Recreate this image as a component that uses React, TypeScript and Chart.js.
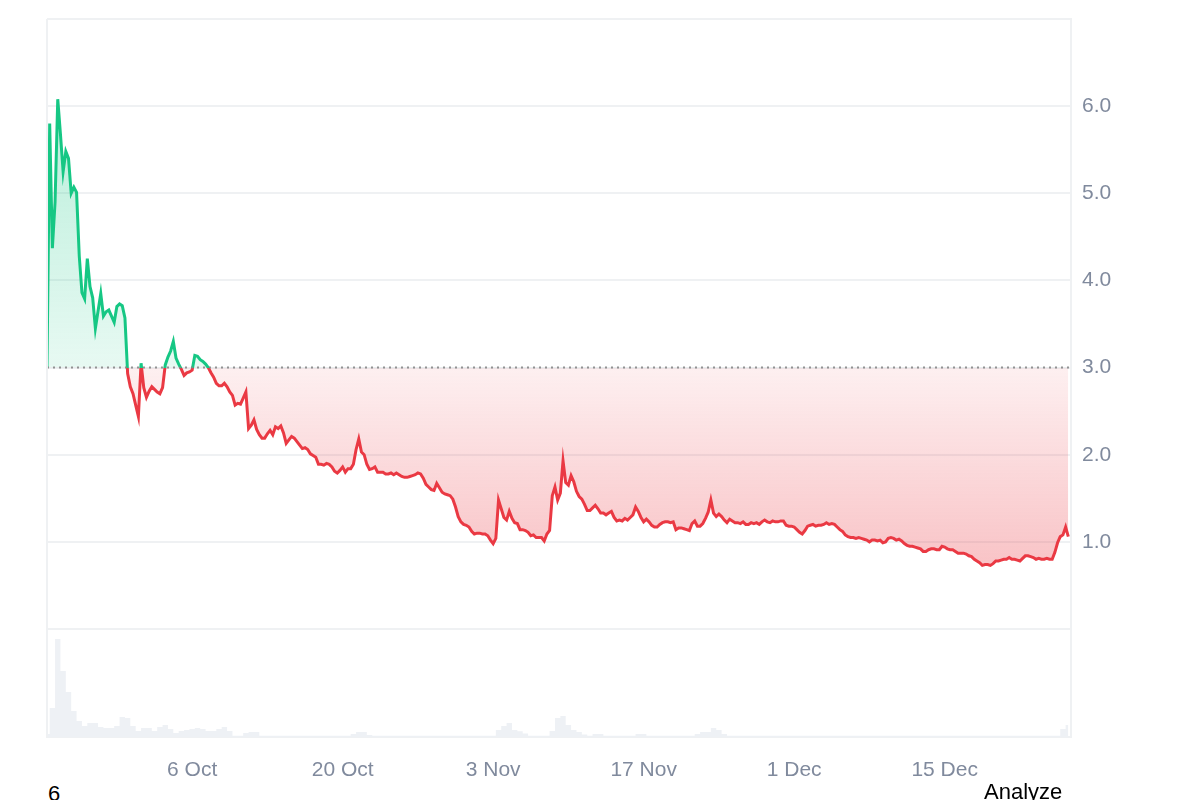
import React, { useEffect, useRef } from "react";
import { Chart, registerables } from "chart.js";

Chart.register(...registerables);

// Day 0 = 22 Sep. Prices sampled every 6 hours, volume every 12 hours.
const START_DAY = 0.5;
const PRICE_STEP = 0.25;
const VOLUME_STEP = 0.5;
const X_MIN = 0.5;
const X_MAX = 95.75;
const BASELINE = 3.0;

const TICK_DAYS = [14, 28, 42, 56, 70, 84];
const TICK_LABELS = ["6 Oct", "20 Oct", "3 Nov", "17 Nov", "1 Dec", "15 Dec"];
const PRICE_MIN = 0;
const PRICE_MAX = 7;
const PRICE_LABELED = [1, 2, 3, 4, 5, 6];
const VOLUME_MAX = 108;

const PRICES = [
  3.0, 5.8, 4.37, 4.9, 6.08, 5.68, 5.25, 5.48, 5.4, 5.0,
  5.07, 5.01, 4.28, 3.86, 3.79, 4.25, 3.93, 3.8, 3.45, 3.65,
  3.85, 3.59, 3.64, 3.66, 3.59, 3.52, 3.7, 3.73, 3.71, 3.57,
  2.93, 2.78, 2.7, 2.57, 2.44, 3.05, 2.77, 2.66, 2.73, 2.78,
  2.75, 2.72, 2.7, 2.77, 3.03, 3.12, 3.19, 3.3, 3.11, 3.04,
  2.98, 2.91, 2.94, 2.95, 2.97, 3.14, 3.13, 3.09, 3.07, 3.04,
  3.0, 2.94, 2.89, 2.82, 2.79, 2.79, 2.82, 2.78, 2.72, 2.68,
  2.57, 2.59, 2.58, 2.65, 2.72, 2.3, 2.34, 2.4, 2.29, 2.23,
  2.19, 2.19, 2.24, 2.28, 2.23, 2.32, 2.3, 2.33, 2.25, 2.13,
  2.17, 2.21, 2.19, 2.15, 2.11, 2.07, 2.08, 2.06, 2.01, 1.99,
  1.97, 1.89, 1.89, 1.88, 1.9, 1.89, 1.86, 1.81, 1.79, 1.82,
  1.86, 1.8, 1.84, 1.84, 1.89, 2.06, 2.18, 2.03, 2.0, 1.89,
  1.83, 1.84, 1.86, 1.8, 1.8, 1.8, 1.78, 1.78, 1.79, 1.77,
  1.79, 1.77, 1.75, 1.74, 1.74, 1.75, 1.76, 1.77, 1.79, 1.78,
  1.73, 1.66, 1.63, 1.6, 1.59, 1.67, 1.62, 1.57, 1.55, 1.54,
  1.53, 1.49, 1.4, 1.29, 1.23, 1.2, 1.19, 1.17, 1.12, 1.09,
  1.1, 1.1, 1.09, 1.09, 1.07, 1.02, 0.98, 1.04, 1.48, 1.38,
  1.28, 1.25, 1.35, 1.27, 1.22, 1.21, 1.14, 1.14, 1.13, 1.11,
  1.07, 1.08, 1.05, 1.05, 1.05, 1.01, 1.09, 1.13, 1.53, 1.63,
  1.48, 1.56, 1.93, 1.68, 1.65, 1.76, 1.69, 1.58, 1.52, 1.49,
  1.43, 1.36, 1.36, 1.39, 1.42, 1.38, 1.33, 1.33, 1.31, 1.33,
  1.35, 1.28, 1.24, 1.25, 1.24, 1.27, 1.25, 1.28, 1.31, 1.4,
  1.35, 1.28, 1.23, 1.26, 1.23, 1.19, 1.17, 1.17, 1.2, 1.22,
  1.23, 1.23, 1.22, 1.23, 1.14, 1.16, 1.16, 1.15, 1.14, 1.13,
  1.21, 1.24, 1.18, 1.18, 1.21, 1.27, 1.34, 1.48, 1.33, 1.29,
  1.32, 1.29, 1.25, 1.22, 1.26, 1.24, 1.22, 1.22, 1.21, 1.23,
  1.2, 1.2, 1.22, 1.21, 1.22, 1.2, 1.23, 1.25, 1.23, 1.22,
  1.24, 1.23, 1.23, 1.24, 1.24, 1.19, 1.18, 1.18, 1.17, 1.14,
  1.11, 1.09, 1.13, 1.18, 1.19, 1.2, 1.18, 1.19, 1.19, 1.2,
  1.22, 1.2, 1.21, 1.2, 1.17, 1.14, 1.12, 1.08, 1.06, 1.05,
  1.05, 1.04, 1.05, 1.04, 1.03, 1.02, 1.0, 1.02, 1.02, 1.01,
  1.02, 0.99, 1.0, 1.04, 1.05, 1.04, 1.02, 1.03, 1.01, 0.98,
  0.96, 0.95, 0.95, 0.94, 0.93, 0.92, 0.89, 0.89, 0.91, 0.92,
  0.92, 0.91, 0.91, 0.95, 0.94, 0.92, 0.91, 0.91, 0.89, 0.87,
  0.87, 0.87, 0.86, 0.84, 0.83, 0.8, 0.78, 0.76, 0.73, 0.74,
  0.74, 0.73, 0.75, 0.78, 0.78, 0.79, 0.8, 0.8, 0.82, 0.8,
  0.8, 0.79, 0.78, 0.81, 0.84, 0.84, 0.83, 0.82, 0.8, 0.81,
  0.8, 0.8, 0.81, 0.8, 0.8, 0.88, 0.99, 1.06, 1.08, 1.17,
  1.06,
];

const VOLUMES = [
  3, 29, 98, 66, 45, 26, 16, 11, 14, 14,
  10, 9, 9, 11, 20, 19, 11, 6, 9, 9,
  6, 10, 12, 8, 4, 6, 7, 8, 9, 8,
  6, 6, 8, 10, 6, 1.3, 1.3, 4, 5, 5,
  1.3, 1.3, 1.3, 1.3, 1.3, 1.3, 1.3, 1.3, 1.3, 1.3,
  1.3, 1.3, 1.3, 1.3, 1.3, 1.3, 1.3, 3, 5, 5,
  2, 1.3, 1.3, 1.3, 1.3, 1.3, 1.3, 1.3, 1.3, 1.3,
  1.3, 1.3, 1.3, 1.3, 1.3, 1.3, 1.3, 1.3, 1.3, 1.3,
  1.3, 1.3, 1.3, 1.3, 7, 11, 14, 7, 5.7, 3.5,
  1.3, 1.3, 1.3, 1.3, 6, 19, 21, 12, 7, 5,
  2.5, 1.3, 3, 3, 1.3, 1.3, 1.3, 1.3, 1.3, 1.3,
  3, 3, 1.3, 1.3, 1.3, 1.3, 1.3, 1.3, 1.3, 1.3,
  1.3, 3, 5, 5, 9, 7, 3, 1.3, 1.3, 1.3,
  1.3, 1.3, 1.3, 1.3, 1.3, 1.3, 1.3, 1.3, 1.3, 1.3,
  1.3, 1.3, 1.3, 1.3, 1.3, 1.3, 1.3, 1.3, 1.3, 1.3,
  1.3, 1.3, 1.3, 1.3, 1.3, 1.3, 1.3, 1.3, 1.3, 1.3,
  1.3, 1.3, 1.3, 1.3, 1.3, 1.3, 1.3, 1.3, 1.3, 1.3,
  1.3, 1.3, 1.3, 1.3, 1.3, 1.3, 1.3, 1.3, 1.3, 1.3,
  1.3, 1.3, 1.3, 1.3, 1.3, 1.3, 1.3, 1.3, 1.3, 8,
  12,
];

const GREEN = "#16c784";
const RED = "#ea3943";
const GRID = "#eff1f3";
const TICK_COLOR = "#808a9d";
const FONT_FAMILY = "'Liberation Sans', Arial, Helvetica, sans-serif";

const leftBorderPlugin = {
  id: "leftBorder",
  afterDraw(chart: any) {
    const { ctx, chartArea } = chart;
    ctx.save();
    ctx.strokeStyle = GRID;
    ctx.lineWidth = 2;
    ctx.beginPath();
    ctx.moveTo(chartArea.left, chartArea.top);
    ctx.lineTo(chartArea.left, chartArea.bottom);
    ctx.stroke();
    ctx.restore();
  },
};

export default function App() {
  const canvasRef = useRef<HTMLCanvasElement | null>(null);

  useEffect(() => {
    const canvas = canvasRef.current;
    if (!canvas) return;

    const priceData = PRICES.map((p, i) => ({ x: START_DAY + i * PRICE_STEP, y: p }));
    const volumeData = VOLUMES.map((v, i) => ({ x: START_DAY + i * VOLUME_STEP, y: v }));

    const chart = new Chart(canvas, {
      type: "line",
      data: {
        datasets: [
          {
            label: "baseline",
            data: [
              { x: X_MIN, y: BASELINE },
              { x: X_MAX, y: BASELINE },
            ],
            yAxisID: "y",
            borderColor: "rgba(130,130,130,0.85)",
            borderWidth: 2,
            borderDash: [2, 4],
            pointRadius: 0,
            fill: false,
            order: 0,
          },
          {
            label: "price",
            data: priceData,
            yAxisID: "y",
            borderColor: RED,
            borderWidth: 3,
            pointRadius: 0,
            tension: 0,
            fill: { target: { value: BASELINE }, above: "rgba(22,199,132,0.18)", below: "rgba(234,57,67,0.15)" },
            order: 1,
          },
          {
            label: "volume",
            data: volumeData,
            yAxisID: "yv",
            borderWidth: 0,
            borderColor: "rgba(0,0,0,0)",
            backgroundColor: "#eef1f5",
            pointRadius: 0,
            stepped: "middle",
            fill: "origin",
            order: 2,
          },
        ] as any,
      },
      options: {
        animation: false,
        responsive: true,
        maintainAspectRatio: false,
        layout: { padding: { left: 39, top: 11, right: 0, bottom: 0 } },
        plugins: {
          legend: { display: false },
          tooltip: { enabled: false },
        },
        scales: {
          x: {
            type: "linear",
            min: X_MIN,
            max: X_MAX,
            grid: { display: false },
            border: { display: true, color: GRID, width: 2 },
            afterBuildTicks: (axis: any) => {
              axis.ticks = TICK_DAYS.map((v) => ({ value: v }));
            },
            afterFit: (scale: any) => {
              scale.height = 43;
              scale.paddingLeft = 0;
              scale.paddingRight = 0;
            },
            ticks: {
              autoSkip: false,
              maxRotation: 0,
              padding: 13,
              color: TICK_COLOR,
              font: { family: FONT_FAMILY, size: 21 },
              callback: (value: any) => {
                const idx = TICK_DAYS.indexOf(Number(value));
                return idx >= 0 ? TICK_LABELS[idx] : "";
              },
            },
          },
          y: {
            type: "linear",
            position: "right",
            stack: "main",
            stackWeight: 610,
            min: PRICE_MIN,
            max: PRICE_MAX,
            grid: { color: GRID, lineWidth: 2, drawTicks: false },
            border: { display: true, color: GRID, width: 2 },
            afterFit: (scale: any) => {
              scale.width = 121;
              scale.paddingTop = 0;
              scale.paddingBottom = 0;
            },
            ticks: {
              stepSize: 1,
              padding: 11,
              color: TICK_COLOR,
              font: { family: FONT_FAMILY, size: 21 },
              callback: (value: any) =>
                PRICE_LABELED.includes(Number(value)) ? Number(value).toFixed(1) : "",
            },
          },
          yv: {
            type: "linear",
            position: "right",
            stack: "main",
            stackWeight: 108,
            min: 0,
            max: VOLUME_MAX,
            grid: { display: false },
            border: { display: true, color: GRID, width: 2 },
            ticks: { display: false },
            afterFit: (scale: any) => {
              scale.paddingTop = 0;
              scale.paddingBottom = 0;
            },
          },
        },
      } as any,
      plugins: [leftBorderPlugin],
    });

    // Gradients depend on the laid-out scales; apply and redraw once.
    const { ctx, chartArea, scales } = chart as any;
    const yScale = scales.y;
    const yb = yScale.getPixelForValue(BASELINE);
    const frac = (yb - chartArea.top) / (chartArea.bottom - chartArea.top);
    const border = ctx.createLinearGradient(0, chartArea.top, 0, chartArea.bottom);
    border.addColorStop(0, GREEN);
    border.addColorStop(frac, GREEN);
    border.addColorStop(frac, RED);
    border.addColorStop(1, RED);
    const yTop = yScale.getPixelForValue(Math.max(...PRICES));
    const yLow = yScale.getPixelForValue(Math.min(...PRICES));
    const above = ctx.createLinearGradient(0, yTop, 0, yb);
    above.addColorStop(0, "rgba(22,199,132,0.30)");
    above.addColorStop(1, "rgba(22,199,132,0.10)");
    const below = ctx.createLinearGradient(0, yb, 0, yLow);
    below.addColorStop(0, "rgba(234,57,67,0.08)");
    below.addColorStop(1, "rgba(234,57,67,0.30)");
    const ds: any = chart.data.datasets[1];
    ds.borderColor = border;
    ds.fill = { target: { value: BASELINE }, above, below };
    chart.update("none");

    return () => {
      chart.destroy();
    };
  }, []);

  return (
    <div>
      <div style={{ position: "relative", width: 1184, height: 772 }}>
        <canvas ref={canvasRef} />
      </div>
      <div
        style={{
          position: "absolute",
          left: 48,
          top: 781,
          fontFamily: FONT_FAMILY,
          fontSize: 22,
          color: "#000",
          lineHeight: "normal",
        }}
      >
        6
      </div>
      <div
        style={{
          position: "absolute",
          left: 984,
          top: 779,
          fontFamily: FONT_FAMILY,
          fontSize: 22,
          color: "#000",
          lineHeight: "normal",
        }}
      >
        Analyze
      </div>
    </div>
  );
}
